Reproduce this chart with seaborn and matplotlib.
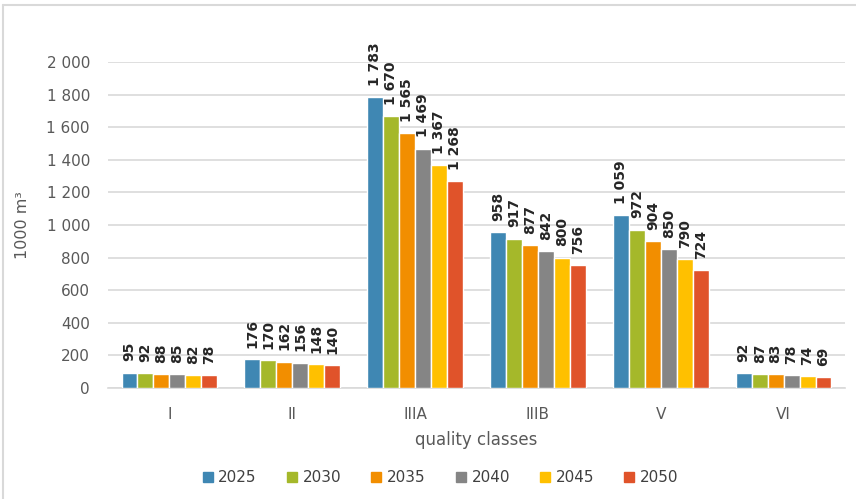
import matplotlib
matplotlib.use("Agg")
import matplotlib.pyplot as plt
from matplotlib.lines import Line2D
from matplotlib.ticker import FuncFormatter
import pandas as pd
import seaborn as sns

# Projected volume by quality class (1000 m³)
classes = ["I", "II", "IIIA", "IIIB", "V", "VI"]
years = ["2025", "2030", "2035", "2040", "2045", "2050"]
v2025 = [95, 176, 1783, 958, 1059, 92]
v2030 = [92, 170, 1670, 917, 972, 87]
v2035 = [88, 162, 1565, 877, 904, 83]
v2040 = [85, 156, 1469, 842, 850, 78]
v2045 = [82, 148, 1367, 800, 790, 74]
v2050 = [78, 140, 1268, 756, 724, 69]
colors = ["#3F87B3", "#A5B82A", "#F28E00", "#858585", "#FFC000", "#E0532A"]

series = [v2025, v2030, v2035, v2040, v2045, v2050]
rows = []
for yr, vals in zip(years, series):
    for cl, v in zip(classes, vals):
        rows.append({"class": cl, "year": yr, "value": v})
df = pd.DataFrame(rows)

sns.set_theme(style="white")
plt.rcParams["font.family"] = ["DejaVu Sans"]

fig = plt.figure(figsize=(8.56, 4.99), dpi=100)
ax = fig.add_axes([108 / 856, 1 - 388 / 499, (845 - 108) / 856, (388 - 62) / 499])

sns.barplot(data=df, x="class", y="value", hue="year", order=classes,
            hue_order=years, palette=colors, width=0.78, edgecolor="white",
            linewidth=1.0, saturation=1, ax=ax, legend=False, zorder=3)


def spaced(v):
    return f"{int(v):,}".replace(",", " ")


for cont in ax.containers:
    labels = [spaced(b.get_height()) for b in cont]
    ax.bar_label(cont, labels=labels, rotation=90, padding=8,
                 fontsize=10, fontweight="bold", color="#262626")

ax.set_ylim(0, 2000)
ax.set_yticks(range(0, 2001, 200))
ax.yaxis.set_major_formatter(FuncFormatter(lambda v, p: spaced(v)))
ax.grid(axis="y", color="#D9D9D9", linewidth=1.2, zorder=0)
ax.set_axisbelow(True)
for s in ["top", "right", "left"]:
    ax.spines[s].set_visible(False)
ax.spines["bottom"].set_color("#D9D9D9")
ax.spines["bottom"].set_linewidth(1.2)
ax.tick_params(axis="y", length=0, pad=13, labelsize=11, labelcolor="#595959")
ax.tick_params(axis="x", length=0, pad=14, labelsize=11, labelcolor="#595959")

ax.set_xlabel("quality classes", fontsize=12, color="#595959", labelpad=6)
ax.set_ylabel("1000 m³", fontsize=11.5, color="#595959", labelpad=12)

handles = [Line2D([0], [0], marker="s", linestyle="none", markersize=7,
                  markerfacecolor=c, markeredgecolor=c) for c in colors]
fig.legend(handles, years, loc="center", bbox_to_anchor=(440 / 856, 1 - 478 / 499),
           ncol=6, frameon=False, fontsize=11, handlelength=0.8,
           handletextpad=0.3, columnspacing=1.9, labelcolor="#404040")

# Chart frame
fig.add_artist(Line2D([3 / 856, 3 / 856], [0, 1 - 4.5 / 499],
                      transform=fig.transFigure, color="#D9D9D9", linewidth=1.5))
fig.add_artist(Line2D([3 / 856, 1], [1 - 4.5 / 499, 1 - 4.5 / 499],
                      transform=fig.transFigure, color="#D9D9D9", linewidth=1.5))

fig.savefig("out.png", dpi=100)
